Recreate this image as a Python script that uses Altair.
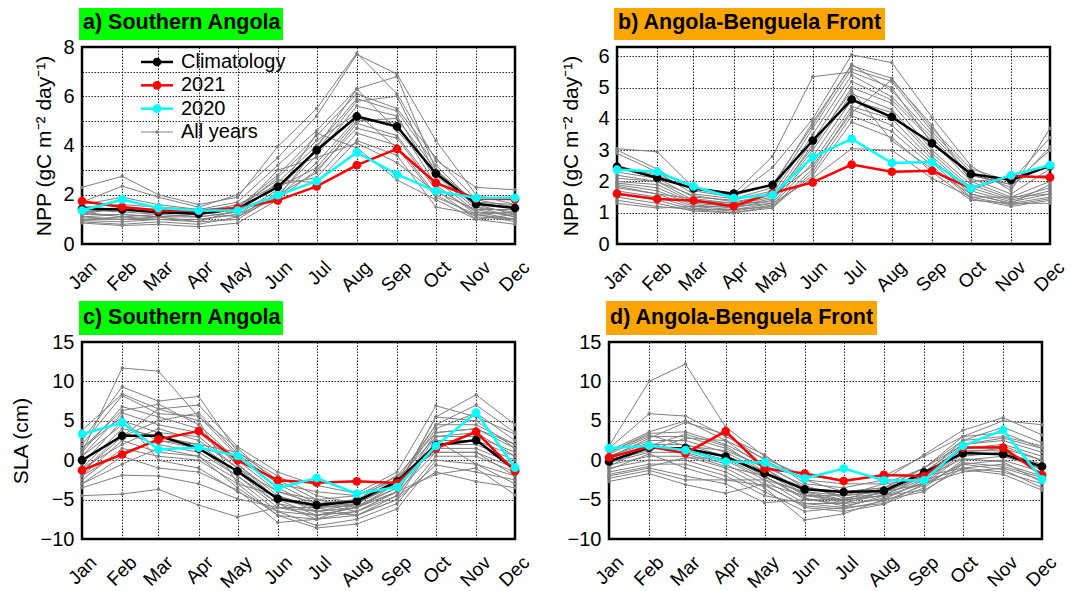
import altair as alt
import pandas as pd
from datetime import date

months = ["Jan", "Feb", "Mar", "Apr", "May", "Jun", "Jul", "Aug", "Sep", "Oct", "Nov", "Dec"]
month_day = [(date(2001, m, 15) - date(2001, 1, 1)).days + 1 for m in range(1, 13)]

# ---------------- Panel a: NPP Southern Angola ----------------
a_clim = [1.43, 1.40, 1.29, 1.23, 1.43, 2.32, 3.81, 5.18, 4.77, 2.86, 1.63, 1.46]
a_2021 = [1.74, 1.50, 1.36, 1.34, 1.46, 1.77, 2.34, 3.20, 3.86, 2.48, 1.84, 1.82]
a_2020 = [1.36, 1.81, 1.46, 1.36, 1.36, 1.98, 2.55, 3.72, 2.83, 2.15, 1.87, 1.88]
a_years = [
    [2.3, 2.75, 2.0, 1.6, 1.9, 3.95, 5.5, 7.75, 6.1, 3.4, 2.3, 2.2],
    [1.7, 2.35, 1.9, 1.5, 2.0, 3.5, 5.2, 7.7, 6.9, 4.2, 2.0, 1.6],
    [1.5, 1.6, 1.5, 1.4, 1.7, 3.2, 4.6, 6.3, 6.8, 3.0, 1.5, 1.3],
    [1.3, 1.4, 1.3, 1.2, 1.5, 2.8, 4.4, 6.1, 5.5, 3.5, 1.8, 1.5],
    [1.2, 1.2, 1.1, 1.1, 1.3, 2.5, 4.0, 5.9, 5.4, 3.2, 1.6, 1.2],
    [1.1, 1.0, 1.0, 1.0, 1.2, 2.2, 3.8, 5.8, 6.0, 2.8, 1.4, 1.1],
    [1.0, 1.0, 1.1, 0.9, 1.4, 2.0, 3.6, 5.6, 5.2, 2.6, 1.3, 1.0],
    [0.9, 0.8, 0.9, 0.8, 1.1, 1.9, 3.3, 5.1, 4.9, 2.4, 1.2, 0.9],
    [0.85, 0.75, 0.8, 0.7, 0.85, 1.8, 3.0, 4.7, 4.3, 2.2, 1.0, 0.8],
    [1.4, 1.3, 1.2, 1.3, 1.6, 2.4, 2.7, 4.5, 4.0, 2.0, 1.1, 1.0],
    [1.6, 1.9, 1.6, 1.4, 1.5, 2.6, 2.5, 4.2, 3.6, 1.5, 1.2, 1.3],
    [1.0, 1.1, 1.2, 1.1, 1.3, 3.0, 3.5, 4.1, 3.3, 2.1, 1.4, 1.4],
    [1.2, 1.5, 1.4, 1.3, 1.1, 2.1, 4.5, 3.9, 2.6, 1.8, 1.0, 1.2],
    [0.95, 0.9, 1.0, 1.0, 1.2, 1.9, 3.9, 6.3, 4.6, 2.9, 1.5, 1.1],
    [1.1, 1.2, 1.1, 1.2, 1.4, 2.3, 3.1, 5.0, 5.1, 3.0, 1.7, 1.6],
    [1.3, 1.1, 1.0, 0.9, 1.0, 2.0, 2.9, 4.9, 4.4, 2.3, 1.3, 1.2],
    [1.5, 1.4, 1.3, 1.2, 1.4, 2.7, 4.2, 5.3, 3.9, 1.9, 1.2, 1.0],
]

# ---------------- Panel b: NPP Angola-Benguela Front ----------------
b_clim = [2.47, 2.12, 1.78, 1.61, 1.89, 3.31, 4.62, 4.06, 3.22, 2.24, 2.05, 2.50]
b_2021 = [1.61, 1.44, 1.39, 1.21, 1.63, 1.97, 2.54, 2.31, 2.34, 1.78, 2.18, 2.13]
b_2020 = [2.38, 2.31, 1.84, 1.47, 1.57, 2.78, 3.36, 2.59, 2.62, 1.78, 2.20, 2.52]
b_years = [
    [3.05, 2.95, 1.8, 1.6, 2.8, 5.35, 5.5, 5.0, 3.2, 2.2, 1.9, 2.6],
    [3.0, 2.4, 1.7, 1.5, 2.45, 4.0, 6.05, 5.8, 4.05, 2.5, 1.7, 3.7],
    [2.9, 2.3, 1.6, 1.45, 1.8, 3.9, 5.7, 5.3, 3.7, 2.4, 2.0, 3.4],
    [2.3, 2.1, 1.5, 1.4, 1.7, 3.7, 5.6, 5.2, 3.6, 2.3, 1.8, 3.1],
    [2.1, 2.0, 1.4, 1.3, 1.6, 3.5, 5.4, 4.7, 3.4, 2.1, 1.6, 2.4],
    [2.0, 1.9, 1.35, 1.25, 1.5, 3.3, 5.2, 4.6, 3.3, 2.0, 1.5, 2.0],
    [1.95, 1.8, 1.3, 1.2, 1.45, 3.1, 5.0, 4.5, 3.0, 1.9, 1.45, 1.8],
    [1.9, 1.7, 1.25, 1.15, 1.4, 3.0, 4.8, 4.3, 2.9, 1.8, 1.4, 1.7],
    [1.8, 1.6, 1.2, 1.1, 1.3, 2.8, 4.6, 4.2, 2.8, 1.7, 1.35, 1.6],
    [1.7, 1.5, 1.15, 1.05, 1.25, 2.6, 4.4, 4.0, 2.7, 1.6, 1.3, 1.5],
    [1.6, 1.4, 1.1, 1.0, 1.2, 2.4, 4.3, 3.8, 2.6, 1.5, 1.25, 1.45],
    [1.5, 1.3, 1.05, 1.0, 1.15, 2.3, 4.1, 3.6, 2.5, 1.45, 1.2, 1.4],
    [1.4, 1.2, 1.1, 1.1, 1.2, 2.2, 3.9, 3.4, 2.3, 1.4, 1.3, 1.3],
    [1.3, 1.15, 1.2, 1.2, 1.3, 2.1, 3.05, 3.0, 2.1, 1.5, 1.5, 1.6],
    [2.5, 2.2, 1.75, 1.55, 1.9, 3.8, 5.75, 4.9, 3.5, 2.2, 1.9, 3.0],
    [2.2, 2.0, 1.55, 1.35, 1.55, 2.5, 4.2, 5.25, 3.8, 2.0, 2.1, 2.2],
    [1.85, 1.6, 1.45, 1.3, 1.35, 3.2, 4.9, 3.3, 2.4, 1.6, 1.3, 1.9],
]

# ---------------- Panel c: SLA Southern Angola ----------------
c_clim = [0.0, 3.1, 3.1, 1.5, -1.4, -4.9, -5.7, -5.2, -2.7, 1.9, 2.55, -1.2]
c_2021 = [-1.28, 0.72, 2.64, 3.7, 0.0, -2.55, -2.85, -2.68, -2.9, 1.5, 3.6, -1.4]
c_2020 = [3.3, 4.77, 1.36, 1.6, 0.55, -3.53, -2.26, -4.26, -3.4, 1.8, 6.04, -0.94]
c_years = [
    [1.0, 11.7, 11.3, 5.5, 1.5, -3.0, -4.0, -4.5, -2.0, 3.5, 4.0, 1.5],
    [2.5, 9.3, 7.5, 8.1, 1.0, -2.5, -5.0, -6.0, -3.5, 5.5, 8.3, 4.5],
    [3.8, 8.4, 6.5, 7.0, 1.7, -1.5, -3.2, -4.2, -1.5, 6.9, 5.5, 3.3],
    [2.0, 8.2, 5.9, 5.6, 0.5, -3.5, -6.0, -5.5, -3.0, 4.5, 4.5, 2.0],
    [1.5, 6.3, 7.1, 4.5, 0.0, -4.0, -5.5, -6.5, -4.0, 3.0, 3.0, 1.0],
    [0.5, 6.0, 4.5, 3.5, -0.5, -4.5, -6.5, -7.0, -4.5, 2.5, 2.5, 0.5],
    [-0.5, 5.0, 3.5, 3.0, -1.0, -5.0, -7.0, -6.0, -3.0, 2.0, 2.0, 0.0],
    [-1.0, 4.0, 3.0, 2.0, -1.5, -5.5, -7.5, -5.5, -2.5, 1.5, 1.5, -0.5],
    [-1.5, 3.5, 2.0, 1.0, -2.0, -6.0, -6.0, -5.0, -2.0, 1.0, 1.0, -1.0],
    [-2.0, 2.5, 1.0, 0.5, -2.5, -6.5, -8.3, -7.5, -5.5, 0.5, 0.5, -1.5],
    [-2.5, 1.5, 0.5, 0.0, -3.0, -7.0, -8.6, -8.1, -6.2, 0.0, -0.5, -2.0],
    [-3.0, 0.5, -1.0, -1.5, -3.8, -7.9, -7.5, -7.0, -5.0, -0.6, -1.5, -2.5],
    [-3.5, -1.9, -2.0, -3.0, -4.9, -6.0, -7.0, -6.5, -4.5, -1.5, -2.7, -3.5],
    [-4.5, -4.3, -3.7, -5.7, -7.2, -6.0, -6.5, -6.0, -4.0, -1.8, -1.0, -4.4],
    [0.0, 3.0, 5.0, 6.0, 0.8, -3.0, -5.5, -5.0, -3.0, 4.0, 6.0, 2.5],
    [1.0, 6.8, 5.5, 4.0, -0.5, -5.0, -6.0, -5.8, -3.5, 5.5, 5.0, 1.5],
    [-1.0, 2.0, 4.0, 2.5, -1.0, -4.0, -5.0, -4.5, -2.5, 3.0, 3.5, 0.5],
    [-2.0, 1.0, 2.5, 1.5, -2.0, -5.5, -6.5, -5.5, -3.0, 2.0, 2.5, -1.0],
    [-3.0, -0.5, 1.5, 0.5, -3.5, -7.0, -7.5, -6.5, -4.0, 1.0, 1.0, -2.0],
    [0.5, 4.5, 2.5, 2.0, 1.0, -2.0, -4.5, -5.5, -2.5, 4.5, 7.0, 3.5],
    [-1.5, 3.0, 6.5, 5.0, -3.0, -4.5, -6.0, -7.0, -5.0, 2.5, -0.5, -3.0],
    [1.5, 5.5, 0.0, -1.0, -4.0, -6.5, -7.0, -6.0, -4.0, 3.5, 4.0, 2.0],
]

# ---------------- Panel d: SLA Angola-Benguela Front ----------------
d_clim = [-0.17, 1.6, 1.5, 0.47, -1.66, -3.7, -4.04, -3.9, -1.57, 0.9, 0.77, -0.8]
d_2021 = [0.34, 1.74, 0.9, 3.66, -1.06, -1.7, -2.64, -1.87, -2.0, 1.6, 1.6, -1.87]
d_2020 = [1.53, 1.83, 1.28, -0.17, -0.3, -2.3, -1.06, -2.55, -2.55, 1.83, 3.83, -2.43]
d_years = [
    [1.8, 10.0, 12.2, 4.2, 0.5, -2.5, -3.0, -3.0, -1.0, 3.0, 3.5, 1.5],
    [1.5, 5.9, 5.6, 3.0, 0.7, -3.0, -3.5, -2.5, 0.7, 3.8, 5.4, 3.2],
    [1.2, 3.6, 5.0, 2.5, 0.2, -2.0, -2.5, -2.0, 0.5, 3.0, 5.0, 4.5],
    [1.0, 3.4, 3.6, 2.0, -0.5, -3.5, -4.0, -3.5, -1.0, 2.5, 3.0, 1.8],
    [0.8, 3.0, 3.0, 1.5, -1.0, -4.0, -4.5, -4.0, -1.5, 2.0, 2.5, 1.0],
    [0.5, 2.5, 2.5, 1.0, -1.5, -4.5, -5.0, -4.5, -2.0, 1.5, 2.0, 0.5],
    [0.2, 2.0, 2.0, 0.5, -2.0, -5.0, -5.5, -5.0, -2.5, 1.0, 1.5, 0.0],
    [0.0, 1.5, 1.5, 0.0, -2.5, -5.5, -6.0, -5.5, -3.0, 0.5, 1.0, -0.5],
    [-0.3, 1.0, 1.0, -0.5, -3.0, -6.0, -6.5, -5.6, -3.5, 0.0, 0.5, -1.0],
    [-0.6, 0.5, 0.5, -1.0, -3.5, -7.6, -6.8, -5.0, -4.0, -0.5, 0.0, -1.5],
    [-1.0, 0.0, 0.0, -1.5, -4.0, -6.5, -6.0, -4.5, -3.8, -1.0, -0.5, -2.0],
    [-1.5, -0.5, -0.5, -2.0, -4.5, -5.5, -5.5, -4.0, -3.0, -1.5, -1.0, -2.5],
    [-2.0, -1.0, -2.0, -3.0, -5.4, -5.0, -5.0, -3.5, -2.0, -1.0, -1.5, -3.0],
    [-2.7, -1.7, -3.1, -4.2, -3.0, -4.5, -4.5, -3.0, -2.5, -1.2, -1.8, -3.8],
    [-2.3, -1.3, -2.5, -2.5, -2.5, -4.0, -5.0, -4.5, -3.0, -0.5, -1.2, -3.5],
    [0.3, 2.8, 4.8, 3.3, 0.0, -2.5, -4.0, -3.5, -1.0, 2.0, 2.8, 1.5],
    [-0.8, 1.8, 3.3, 1.8, -1.5, -3.5, -4.5, -3.8, -2.0, 1.5, 1.8, 0.0],
    [0.5, 2.2, 0.8, -0.8, -2.0, -4.8, -5.8, -4.8, -2.8, 0.8, 0.8, -1.2],
    [-1.2, 0.8, -1.0, -2.5, -3.2, -5.8, -6.2, -5.2, -3.2, -0.3, -0.8, -2.2],
    [1.0, 3.2, 1.8, 1.2, -0.8, -3.2, -4.8, -4.2, -1.8, 2.5, 4.2, 2.2],
    [-1.8, -0.8, 0.3, 0.2, -2.2, -4.2, -5.2, -4.0, -2.2, 0.2, -0.2, -2.8],
    [0.0, 1.2, 2.8, 2.5, -1.0, -4.4, -5.4, -4.4, -2.4, 1.2, 1.2, -0.8],
]

legend_labels = ["Climatology", "2021", "2020", "All years"]
legend_colors = ["#000000", "#ff0000", "#00ffff", "#808080"]

FONT = "Liberation Sans"
GRID = dict(grid=True, gridColor="#000", gridOpacity=0.85, gridDash=[1.5, 1.5], gridWidth=1)
month_expr = "{}[indexof({}, datum.value)]".format(
    "[" + ",".join("'%s'" % m for m in months) + "]",
    "[" + ",".join(str(d) for d in month_day) + "]",
)


def long_frame(series_list, names):
    rows = []
    for name, vals in zip(names, series_list):
        for d, v in zip(month_day, vals):
            rows.append({"series": name, "day": d, "value": v})
    return pd.DataFrame(rows)


def panel(title, box_color, box_w, years, clim, y21, y20, ydom, yvals, ytitle,
          label_every, title_pad=6, legend=False):
    gray_df = long_frame(years, ["y%02d" % i for i in range(len(years))])
    xaxis = alt.Axis(values=month_day, labelExpr=month_expr, title=None, labelAngle=-45,
                     labelAlign="right", labelBaseline="middle", labelPadding=20, labelOffset=11,
                     labelFontSize=19, labelFont=FONT, labelColor="#000",
                     ticks=False, domain=False, labelOverlap=False, **GRID)
    xenc = alt.X("day:Q", scale=alt.Scale(domain=[month_day[0], month_day[-1]], nice=False, zero=False),
                 axis=xaxis)
    axis_kw = dict(values=yvals,
                   labelExpr="datum.value %% %d == 0 ? datum.label : ''" % label_every,
                   labelFontSize=20, labelFont=FONT, labelColor="#000", labelPadding=8,
                   ticks=False, domain=False, labelOverlap=False, **GRID)
    if ytitle:
        axis_kw.update(title=ytitle, titleFontSize=21, titleFont=FONT, titleFontWeight="normal",
                       titleColor="#000", titlePadding=title_pad)
    else:
        axis_kw.update(title="")
    yenc = alt.Y("value:Q", scale=alt.Scale(domain=ydom, nice=False, zero=False),
                 axis=alt.Axis(**axis_kw))

    gray_line = alt.Chart(gray_df).mark_line(color="#808080", strokeWidth=1).encode(
        x=xenc, y=yenc, detail="series:N")
    gray_pts = alt.Chart(gray_df).mark_point(color="#808080", filled=True, size=12, opacity=1).encode(
        x=xenc, y=yenc, detail="series:N")
    layers = [gray_line, gray_pts]
    for vals, col in [(clim, "#000000"), (y21, "#ff0000"), (y20, "#00ffff")]:
        df = long_frame([vals], ["s"])
        layers.append(alt.Chart(df).mark_line(color=col, strokeWidth=2.5).encode(x=xenc, y=yenc))
        layers.append(alt.Chart(df).mark_point(color=col, filled=True, size=75, opacity=1).encode(
            x=xenc, y=yenc))
    data_layer = alt.layer(*layers)

    tdf = pd.DataFrame({"t": [title]})
    box = alt.Chart(tdf).mark_rect(color=box_color).encode(
        x=alt.value(-3), x2=alt.value(box_w - 3), y=alt.value(-41), y2=alt.value(-7))
    txt = alt.Chart(tdf).mark_text(align="left", baseline="middle", fontSize=21.5, fontWeight="bold",
                                   font=FONT, color="#000").encode(
        x=alt.value(1), y=alt.value(-24), text="t:N")
    deco = [box, txt]

    if legend:
        ldf = pd.DataFrame({"label": legend_labels, "color": legend_colors,
                            "w": [2.5, 2.5, 2.5, 1.0], "sz": [75, 75, 75, 12]})
        ly = alt.Y("label:N", scale=alt.Scale(type="point", domain=legend_labels, range=[15, 85],
                                              padding=0), axis=None)
        lc = alt.Color("color:N", scale=None)
        lrule = alt.Chart(ldf).mark_rule().encode(
            y=ly, x=alt.value(59), x2=alt.value(91), color=lc,
            strokeWidth=alt.StrokeWidth("w:Q", scale=None))
        lpt = alt.Chart(ldf).mark_point(filled=True, opacity=1).encode(
            y=ly, x=alt.value(75), color=lc, size=alt.Size("sz:Q", scale=None))
        ltxt = alt.Chart(ldf).mark_text(align="left", baseline="middle", fontSize=20, font=FONT,
                                        color="#000").encode(
            y=ly, x=alt.value(99), text="label:N")
        leg = alt.layer(lrule, lpt, ltxt)
        chart = alt.layer(data_layer, leg, *deco).resolve_scale(y="independent")
    else:
        chart = alt.layer(data_layer, *deco)
    return chart.properties(width=433, height=197)


npp_title = "NPP (gC m\u207b\u00b2 day\u207b\u00b9)"
pa = panel("a) Southern Angola", "#00ff00", 204, a_years, a_clim, a_2021, a_2020,
           [0, 8], list(range(0, 9)), npp_title, 2, title_pad=8, legend=True)
pb = panel("b) Angola-Benguela Front", "#ffa500", 271, b_years, b_clim, b_2021, b_2020,
           [0, 6.3], list(range(0, 7)), npp_title, 1, title_pad=16)
pc = panel("c) Southern Angola", "#00ff00", 204, c_years, c_clim, c_2021, c_2020,
           [-10, 15], list(range(-10, 16, 5)), "SLA (cm)", 5, title_pad=9)
pd_ = panel("d) Angola-Benguela Front", "#ffa500", 271, d_years, d_clim, d_2021, d_2020,
            [-10, 15], list(range(-10, 16, 5)), None, 5)

row1 = alt.hconcat(pa, pb, spacing=24)
row2 = alt.hconcat(pc, pd_, spacing=30)
chart = alt.vconcat(row1, row2, spacing=1).properties(
    padding={"left": 0, "top": -4, "right": 0, "bottom": 0}
).configure(background="white", view=alt.ViewConfig(stroke="#000", strokeWidth=2.5))

chart.save("out.html", embed_options={"renderer": "svg", "actions": False})
